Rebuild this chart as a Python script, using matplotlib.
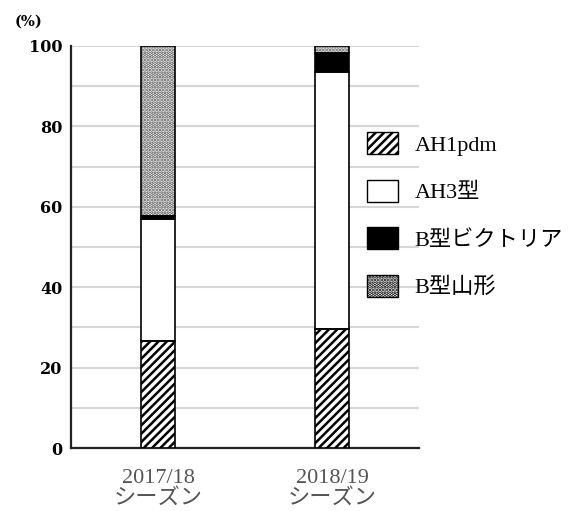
import matplotlib
matplotlib.use("Agg")
import matplotlib.pyplot as plt
from matplotlib.patches import Patch

plt.rcParams['font.family'] = ['Liberation Serif', 'Noto Sans CJK JP']
plt.rcParams['hatch.linewidth'] = 1.8

# Influenza subtype share per season (%)
seasons = ['2017/18\nシーズン', '2018/19\nシーズン']
series_names = ['AH1pdm', 'AH3型', 'B型ビクトリア', 'B型山形']
ah1pdm = [26.5, 29.5]
ah3 = [30.5, 64.0]
b_victoria = [0.8, 4.7]
b_yamagata = [42.2, 1.8]
y_ticks = [0, 20, 40, 60, 80, 100]

# fill style per series; 'dots' is a stippled grey fill
styles = [
    dict(facecolor='white', hatch='////', hatch_edge='black'),
    dict(facecolor='white', hatch=None, hatch_edge='black'),
    dict(facecolor='black', hatch=None, hatch_edge='black'),
    dict(facecolor='white', hatch='.....', hatch_edge='#555555'),
]

fig = plt.figure(figsize=(5.74, 5.11), dpi=100)
ax = fig.add_axes([71 / 574, 63 / 511, 348 / 574, 402 / 511])

x = list(range(len(seasons)))
bottom = [0.0] * len(seasons)
for vals, st in zip([ah1pdm, ah3, b_victoria, b_yamagata], styles):
    # fill + hatch, then a black outline on top
    ax.bar(x, vals, width=0.195, bottom=bottom, facecolor=st['facecolor'],
           hatch=st['hatch'], edgecolor=st['hatch_edge'], linewidth=0,
           zorder=3)
    ax.bar(x, vals, width=0.195, bottom=bottom, facecolor='none',
           edgecolor='black', linewidth=1.2, zorder=4)
    bottom = [b + v for b, v in zip(bottom, vals)]

ax.set_xlim(-0.5, 1.5)
ax.set_ylim(0, 100)
ax.set_yticks(y_ticks)
ax.set_yticks(range(10, 101, 10), minor=True)
ax.tick_params(axis='y', which='both', length=0, pad=6, labelsize=11.5,
               labelcolor='black')
for lab in ax.get_yticklabels():
    lab.set_family('DejaVu Serif')
    lab.set_fontweight('bold')
ax.set_xticks(x)
ax.set_xticklabels(seasons, fontsize=16, color='#555555', linespacing=1.05)
ax.tick_params(axis='x', length=0, pad=15)
ax.grid(axis='y', which='both', color='#d6d6d6', linewidth=1.5, zorder=0)
ax.set_axisbelow(True)

for side in ('top', 'right'):
    ax.spines[side].set_visible(False)
for side in ('left', 'bottom'):
    ax.spines[side].set_color('#222222')
    ax.spines[side].set_linewidth(1.6)

fig.text(29 / 574, 1 - 22 / 511, '(%)', ha='center', va='center',
         fontsize=10.5, family='DejaVu Serif', fontweight='bold')

# Legend swatches use thinner hatch strokes
with plt.rc_context({'hatch.linewidth': 0.8}):
    handles = [Patch(facecolor=st['facecolor'], hatch=st['hatch'],
                     edgecolor='black', linewidth=1.0) for st in styles]
leg = fig.legend(handles, series_names, loc='upper left',
                 bbox_to_anchor=(367 / 574, 1 - 132 / 511),
                 frameon=False, fontsize=16, handlelength=1.4,
                 handleheight=1.15, labelspacing=1.08, handletextpad=0.75,
                 borderpad=0, borderaxespad=0)

fig.savefig('out.png', dpi=100)
